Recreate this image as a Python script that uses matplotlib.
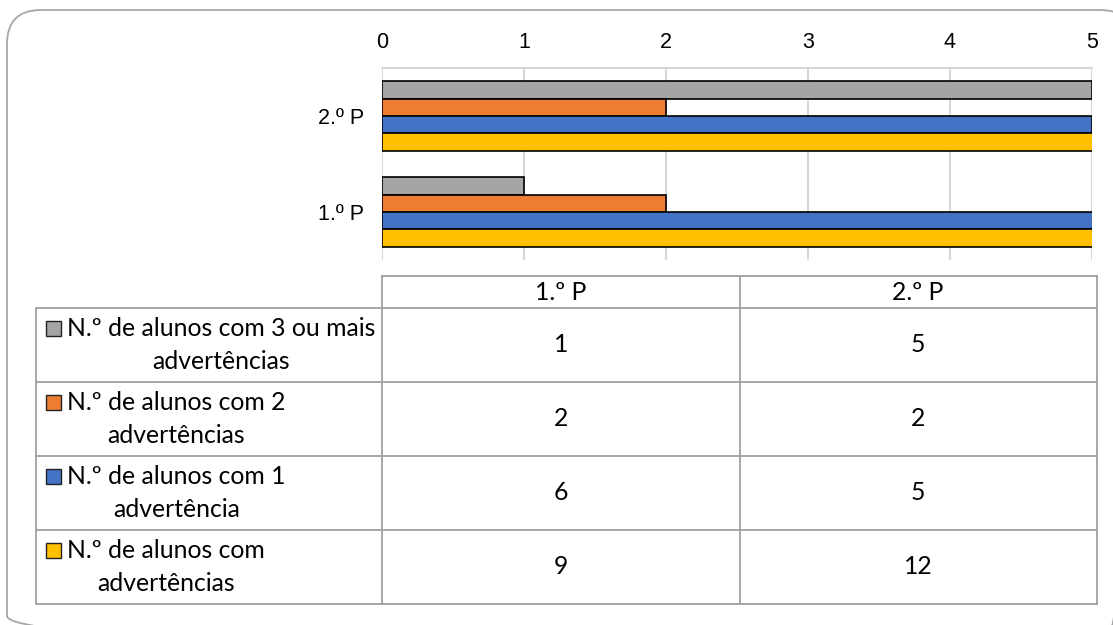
import matplotlib.pyplot as plt
from matplotlib.patches import FancyBboxPatch, Rectangle

# data
periodos = ['1.º P', '2.º P']
series = ['N.º de alunos com 3 ou mais\nadvertências',
          'N.º de alunos com 2\nadvertências',
          'N.º de alunos com 1\nadvertência',
          'N.º de alunos com\nadvertências']
tres_ou_mais = [1, 5]
duas = [2, 2]
uma = [6, 5]
com_advert = [9, 12]
valores = [tres_ou_mais, duas, uma, com_advert]
cores = ['#A5A5A5', '#ED7D31', '#4472C4', '#FFC000']

W, H = 1113, 625
fig = plt.figure(figsize=(W / 100, H / 100), dpi=100)

# background layer in pixel coordinates (frame + data table)
bg = fig.add_axes([0, 0, 1, 1], zorder=-1)
bg.set_xlim(0, W)
bg.set_ylim(H, 0)
bg.axis('off')
bg.add_patch(FancyBboxPatch((7, 10), 1127, 640,
                            boxstyle='round,pad=0,rounding_size=34',
                            fc='none', ec='#A6A6A6', lw=1.3))

# bar chart area
ax = fig.add_axes([382 / W, 1 - 260 / H, 710 / W, 192 / H])
ax.set_facecolor('none')
h = 0.18
offs = [1.5 * h, 0.5 * h, -0.5 * h, -1.5 * h]
for vals, c, o in zip(valores, cores, offs):
    ax.barh([i + o for i in range(len(periodos))], vals, height=h, color=c,
            edgecolor='black', linewidth=1.2, zorder=3)
ax.set_xlim(0, 5)
ax.set_ylim(-0.5, 1.5)
ax.set_xticks(range(6))
ax.set_yticks(range(len(periodos)))
ax.set_yticklabels(periodos)
ax.xaxis.tick_top()
ax.tick_params(axis='both', length=0, labelsize=15.5)
ax.tick_params(axis='x', pad=11)
ax.tick_params(axis='y', pad=13)
for lab in ax.get_xticklabels() + ax.get_yticklabels():
    lab.set_fontfamily('Liberation Sans')
ax.grid(axis='x', color='#D0D0D0', lw=1.2, zorder=0)
for s in ['right', 'bottom', 'left']:
    ax.spines[s].set_visible(False)
ax.spines['top'].set_color('#D0D0D0')
ax.spines['top'].set_linewidth(1.2)

# data table
lc = '#A0A0A0'
tfont = dict(family='Lato', size=17.8)

bg.plot([382, 1097], [276, 276], color=lc, lw=1.3)
for y in [308, 382, 456, 530, 604]:
    bg.plot([36, 1097], [y, y], color=lc, lw=1.3)
bg.plot([36, 36], [308, 604], color=lc, lw=1.3)
for x in [382, 740, 1097]:
    bg.plot([x, x], [276, 604], color=lc, lw=1.3)

col_x = [561, 918]
for p, cx in zip(periodos, col_x):
    bg.text(cx, 292, p, ha='center', va='center', **tfont)

row_y = [345, 419, 493, 567]
for nome, vals, c, ry in zip(series, valores, cores, row_y):
    bg.add_patch(Rectangle((46, ry - 24), 15, 15, fc=c, ec='#222222', lw=1.0))
    bg.text(67, ry, nome, ha='left', va='center',
            multialignment='center', linespacing=1.48, **tfont)
    for v, cx in zip(vals, col_x):
        bg.text(cx, ry, str(v), ha='center', va='center', **tfont)

fig.savefig('out.png', dpi=100)
